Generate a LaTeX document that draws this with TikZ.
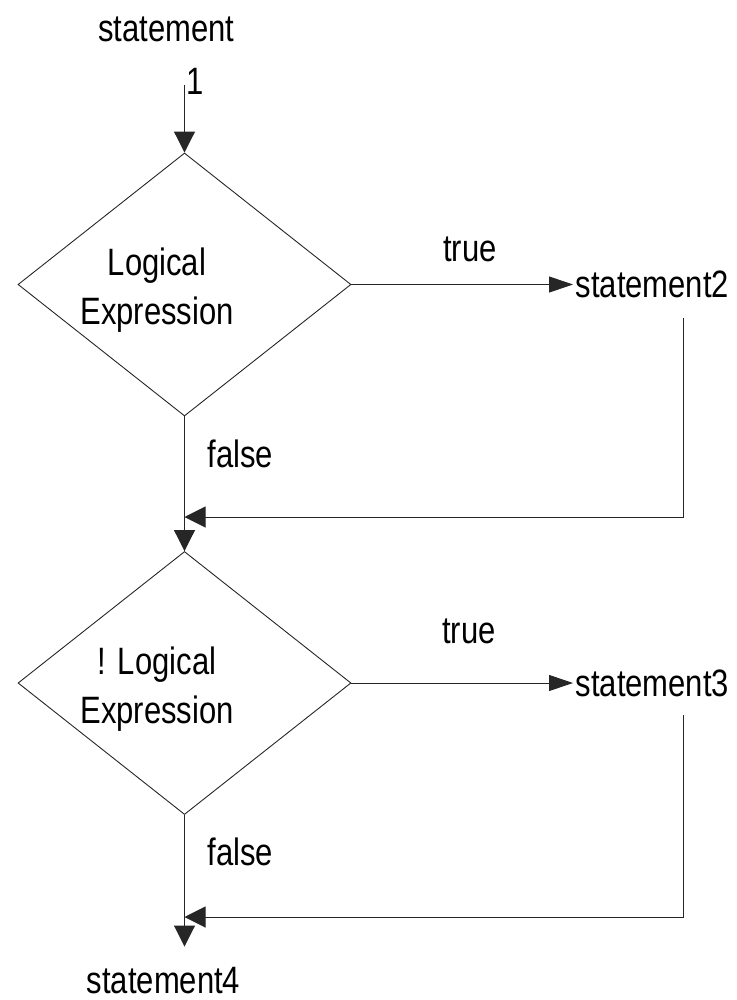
\documentclass[tikz,border=0pt]{standalone}
\usepackage{fontspec}
\setmainfont{Liberation Sans}
\usetikzlibrary{shapes.geometric,arrows.meta}
\begin{document}
\begin{tikzpicture}[x=1pt,y=1pt,
  flow/.style={draw=black!85, line width=1pt},
  txt/.style={font=\fontsize{31}{40}\selectfont, inner sep=0pt, yscale=1.23, transform shape},
  decision/.style={shape=diamond, draw=black!85, line width=0.9pt, inner sep=0pt,
    minimum width=333pt, minimum height=263pt},
  downarrow/.style={flow, -{Triangle[length=21pt,width=21pt]}},
  rightarrow/.style={flow, -{Triangle[length=24pt,width=16pt]}},
  leftarrow/.style={flow, -{Triangle[length=21pt,width=21pt]}}
]
\useasboundingbox (0,0) rectangle (736,-1000);

% entry statement
\node[txt, anchor=base] (s1) at (166.5,-42) {statement};
\node[txt, anchor=base] (s1n) at (195,-95) {1};
\coordinate (c0) at (184.5,-85);

% first decision
\node[decision] (d1) at (184.5,-284.5) {};
\node[txt, align=center] (d1t) at (157,-290.5) {Logical\\Expression};
\node[txt, anchor=base west] (s2) at (575.5,-297) {statement2};
\node[txt, anchor=base] (t1) at (470,-261) {true};
\node[txt, anchor=base west] (f1) at (207.5,-467) {false};

% second decision
\node[decision] (d2) at (184.5,-683) {};
\node[txt, align=center] (d2t) at (157,-689) {! Logical\\Expression};
\node[txt, anchor=base west] (s3) at (575.5,-696) {statement3};
\node[txt, anchor=base] (t2) at (469,-643) {true};
\node[txt, anchor=base west] (f2) at (207.5,-865) {false};

% exit statement
\node[txt, anchor=base] (s4) at (163.5,-993) {statement4};

% join points of the return lines
\coordinate (r1) at (683.5,-318);
\coordinate (j1) at (184.5,-517);
\coordinate (r2) at (683.5,-715);
\coordinate (j2) at (184.5,-917);

% connectors
\draw[downarrow] (c0) -- (d1.north);
\draw[rightarrow, shorten >=2.5pt] (d1.east) -- (d1.east -| s2.west);
\draw[flow] (d1.south) -- (d2.north);
\draw[downarrow] (j1) -- (d2.north);
\draw[leftarrow] (r1) |- (j1);
\draw[rightarrow, shorten >=2.5pt] (d2.east) -- (d2.east -| s3.west);
\draw[leftarrow] (r2) |- (j2);
\draw[downarrow, shorten >=20pt] (d2.south) -- (d2.south |- s4.north);
\end{tikzpicture}
\end{document}
